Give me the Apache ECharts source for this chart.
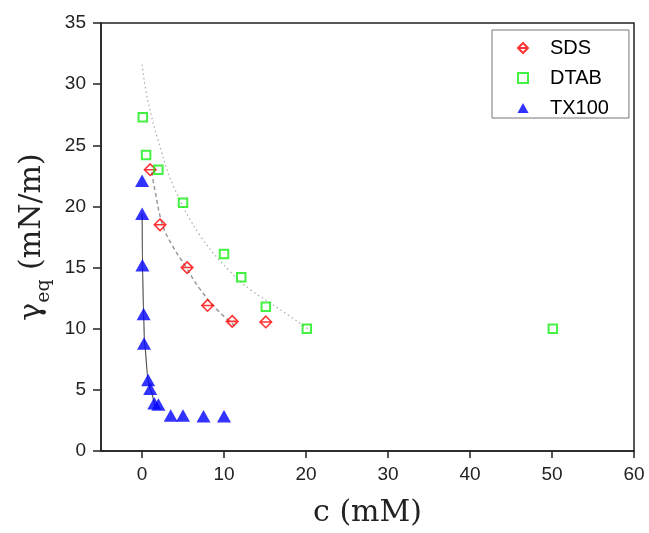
<!DOCTYPE html>
<html>
<head>
<meta charset="utf-8">
<script src="https://cdn.jsdelivr.net/npm/echarts@6/dist/echarts.min.js"></script>
<style>
html,body{margin:0;padding:0;background:#fff;}
#chart{width:649px;height:533px;}
</style>
</head>
<body>
<div id="chart"></div>
<script>
// ---- data ----
const seriesNames = ['SDS', 'DTAB', 'TX100'];

const sdsC = [1.0, 2.2, 5.5, 8.0, 11.0, 15.1];
const sdsG = [23.0, 18.5, 15.0, 11.9, 10.6, 10.55];

const dtabC = [0.1, 0.5, 2.0, 5.0, 10.0, 12.1, 15.1, 20.1, 50.1];
const dtabG = [27.3, 24.2, 23.0, 20.3, 16.1, 14.2, 11.8, 10.0, 10.0];

const txC = [0.01, 0.02, 0.05, 0.2, 0.25, 0.75, 1.0, 1.5, 2.0, 3.5, 5.0, 7.5, 10.0];
const txG = [22.1, 19.4, 15.2, 11.2, 8.8, 5.8, 5.1, 3.9, 3.8, 2.9, 2.9, 2.85, 2.85];

// fitted curves
const sdsFitC = [1.2, 1.55, 2.5, 3.7, 5.3, 7.0, 9.1, 11.3];
const sdsFitG = [22.8, 21.4, 18.5, 16.8, 15.1, 13.3, 11.6, 10.25];

const dtabFitC = [0.0, 0.7, 2.3, 4.0, 7.1, 10.7, 13.2, 16.8, 20.2];
const dtabFitG = [31.6, 28.7, 24.65, 21.4, 17.6, 14.7, 13.2, 11.6, 10.0];

const txFitC = [0.02, 0.05, 0.2, 0.3, 0.75, 1.0, 1.55];
const txFitG = [19.4, 15.2, 11.2, 8.8, 5.8, 5.0, 3.7];

const xTicks = [0, 10, 20, 30, 40, 50, 60];
const xMin = -5, xMax = 60;
const yMin = 0, yMax = 35, yStep = 5;

const zip = (a, b) => a.map((v, i) => [v, b[i]]);

const diamondBar = 'path://M5,0 L10,5 L5,10 L0,5 Z M0,5 L10,5';
const squareIcon = 'path://M0,0 L10,0 L10,10 L0,10 Z';
const triIcon = 'path://M5,0 L10,9 L0,9 Z';

const tickFont = {fontFamily: 'Liberation Sans, Arial, sans-serif', fontSize: 19, color: '#222'};

const chart = echarts.init(document.getElementById('chart'), null, {renderer: 'canvas'});
chart.setOption({
  backgroundColor: '#fff',
  animation: false,
  grid: {left: 101, right: 15, top: 23, bottom: 80, show: true, borderColor: '#222', borderWidth: 1.5, backgroundColor: 'transparent'},
  legend: {
    data: [
      {name: 'SDS', icon: diamondBar},
      {name: 'DTAB', icon: squareIcon},
      {name: 'TX100', icon: triIcon}
    ],
    orient: 'vertical',
    left: 492, top: 30,
    padding: [8, 20, 0, 25],
    itemGap: 10,
    itemWidth: 44,
    itemHeight: 10,
    borderColor: '#777',
    borderWidth: 1,
    textStyle: {fontFamily: 'Liberation Sans, Arial, sans-serif', fontSize: 20, color: '#000'}
  },
  xAxis: {
    type: 'value', min: xMin, max: xMax,
    name: 'c (mM)', nameLocation: 'middle', nameGap: 47,
    nameTextStyle: {fontFamily: 'DejaVu Serif, serif', fontSize: 30, color: '#222'},
    axisLine: {show: true, onZero: false, lineStyle: {color: '#222', width: 1.5}},
    axisTick: {show: true, inside: false, length: 7, customValues: xTicks, lineStyle: {color: '#222', width: 1.5}},
    axisLabel: {margin: 14, customValues: xTicks, ...tickFont},
    splitLine: {show: false}
  },
  yAxis: {
    type: 'value', min: yMin, max: yMax, interval: yStep,
    name: '{m|γ}{s|eq}{m| (mN/m)}', nameLocation: 'middle', nameGap: 46,
    nameTextStyle: {
      color: '#222',
      rich: {
        m: {fontFamily: 'DejaVu Serif, serif', fontSize: 30, lineHeight: 34, verticalAlign: 'top', color: '#222'},
        s: {fontFamily: 'DejaVu Serif, serif', fontSize: 19, lineHeight: 19, padding: [18, 0, 0, 0], verticalAlign: 'top', color: '#222'}
      }
    },
    axisLine: {show: true, onZero: false, lineStyle: {color: '#222', width: 1.5}},
    axisTick: {show: true, inside: false, length: 8, lineStyle: {color: '#222', width: 1.5}},
    axisLabel: {margin: 15, ...tickFont},
    splitLine: {show: false}
  },
  series: [
    {name: 'SDS fit', type: 'line', data: zip(sdsFitC, sdsFitG), showSymbol: false, smooth: 0.4, silent: true, z: 1,
     lineStyle: {color: '#999', width: 1.5, type: [4, 3]}},
    {name: 'DTAB fit', type: 'line', data: zip(dtabFitC, dtabFitG), showSymbol: false, smooth: 0.4, silent: true, z: 1,
     lineStyle: {color: '#aaa', width: 1.2, type: [1.5, 3]}},
    {name: 'TX100 fit', type: 'line', data: zip(txFitC, txFitG), showSymbol: false, smooth: 0.3, smoothMonotone: 'x', silent: true, z: 1,
     lineStyle: {color: '#555', width: 1.2}},
    {name: 'SDS', type: 'scatter', data: zip(sdsC, sdsG), symbol: diamondBar, symbolSize: 11.5, z: 3,
     itemStyle: {color: 'rgba(255,255,255,0)', borderColor: '#ff0000', borderWidth: 1.6}},
    {name: 'DTAB', type: 'scatter', data: zip(dtabC, dtabG), symbol: 'rect', symbolSize: 8.5, z: 3,
     itemStyle: {color: 'rgba(255,255,255,0)', borderColor: '#14ee14', borderWidth: 2}},
    {name: 'TX100', type: 'scatter', data: zip(txC, txG), symbol: 'triangle', symbolSize: [14, 12.5], z: 3,
     itemStyle: {color: '#0000ff'}}
  ]
});
</script>
</body>
</html>
